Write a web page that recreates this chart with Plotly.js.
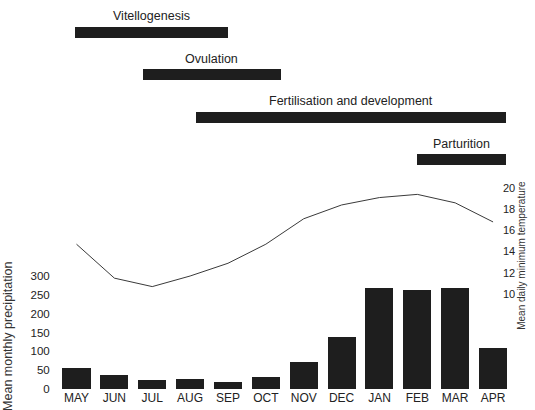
<!DOCTYPE html>
<html>
<head>
<meta charset="utf-8">
<script src="https://cdn.plot.ly/plotly-3.0.1.min.js"></script>
<style>
  html, body { margin: 0; padding: 0; background: #fff; }
  #chart { width: 535px; height: 410px; }
</style>
</head>
<body>
<div id="chart"></div>
<script>
// Months of the reproductive year, May to April
const months = ['MAY', 'JUN', 'JUL', 'AUG', 'SEP', 'OCT', 'NOV', 'DEC', 'JAN', 'FEB', 'MAR', 'APR'];
// Mean monthly precipitation (mm)
const precipitation = [56, 37, 24, 27, 19, 32, 72, 138, 268, 263, 268, 109];
// Mean daily minimum temperature (°C)
const minTemperature = [14.7, 11.5, 10.7, 11.7, 12.9, 14.7, 17.1, 18.4, 19.1, 19.4, 18.6, 16.8];

// Reproductive phases, start/end in month positions (0 = May)
const phaseNames = ['Vitellogenesis', 'Ovulation', 'Fertilisation and development', 'Parturition'];
const phaseStart = [-0.05, 1.75, 3.15, 9.0];
const phaseEnd = [4.0, 5.4, 11.35, 11.35];

const precipTicks = [0, 50, 100, 150, 200, 250, 300];
const tempTicks = [10, 12, 14, 16, 18, 20];

const monthPos = months.map((_, i) => i);
const ink = '#1e1e1e';
const font = 'Liberation Sans, Arial, Helvetica, sans-serif';

// phase rows: first phase at the top
const phaseRow = phaseNames.map((_, i) => phaseNames.length - 1 - i);

const traces = [
  {
    type: 'bar',
    x: monthPos,
    y: precipitation,
    width: 0.74,
    marker: { color: ink, line: { width: 0 } },
    xaxis: 'x', yaxis: 'y',
    hoverinfo: 'skip'
  },
  {
    type: 'scatter',
    mode: 'lines',
    x: monthPos,
    y: minTemperature,
    line: { color: '#3a3a3a', width: 1 },
    xaxis: 'x', yaxis: 'y2',
    hoverinfo: 'skip'
  },
  {
    type: 'bar',
    orientation: 'h',
    y: phaseRow,
    base: phaseStart,
    x: phaseEnd.map((e, i) => e - phaseStart[i]),
    width: 0.26,
    marker: { color: ink, line: { width: 0 } },
    xaxis: 'x', yaxis: 'y3',
    hoverinfo: 'skip'
  }
];

const annotations = phaseNames.map((name, i) => ({
  text: name,
  xref: 'x', yref: 'y3',
  x: (phaseStart[i] + phaseEnd[i]) / 2,
  y: phaseRow[i],
  yshift: 16,
  showarrow: false,
  xanchor: 'center', yanchor: 'middle',
  font: { family: font, size: 12.5, color: '#222' }
}));

annotations.push({
  text: 'Mean monthly precipitation',
  xref: 'paper', yref: 'paper',
  x: -0.1077, y: 0.14,
  textangle: -90,
  showarrow: false,
  xanchor: 'center', yanchor: 'middle',
  font: { family: font, size: 12.5, color: '#333' }
});
annotations.push({
  text: 'Mean daily minimum temperature',
  xref: 'paper', yref: 'paper',
  x: 1.0215, y: 0.3536,
  textangle: -90,
  showarrow: false,
  xanchor: 'center', yanchor: 'middle',
  font: { family: font, size: 10, color: '#333' }
});

const layout = {
  width: 535,
  height: 410,
  margin: { l: 57, r: 23, t: 10, b: 21 },
  paper_bgcolor: '#fff',
  plot_bgcolor: '#fff',
  showlegend: false,
  bargap: 0,
  barmode: 'overlay',
  font: { family: font, color: '#222' },
  xaxis: {
    range: [-0.515, 11.5],
    tickvals: monthPos,
    ticktext: months,
    ticks: '',
    showgrid: false,
    zeroline: false,
    showline: false,
    tickfont: { family: font, size: 12, color: '#222' },
    fixedrange: true
  },
  yaxis: {
    domain: [0, 0.5356],
    range: [0, 538.9],
    tickvals: precipTicks,
    // invisible ticks push the labels a little further from the bars
    ticks: 'outside',
    ticklen: 4,
    tickcolor: 'rgba(0,0,0,0)',
    showgrid: false,
    zeroline: false,
    showline: false,
    tickfont: { family: font, size: 11.5, color: '#222' },
    fixedrange: true
  },
  yaxis2: {
    overlaying: 'y',
    side: 'right',
    anchor: 'free',
    position: 0.978,
    range: [1.04, 20.19],
    tickvals: tempTicks,
    ticks: '',
    showgrid: false,
    zeroline: false,
    showline: false,
    tickfont: { family: font, size: 11, color: '#222' },
    fixedrange: true
  },
  yaxis3: {
    domain: [0.5646, 1],
    range: [-0.366, 3.53],
    visible: false,
    anchor: 'x',
    fixedrange: true
  },
  annotations: annotations
};

Plotly.newPlot('chart', traces, layout, { staticPlot: true, displayModeBar: false });
</script>
</body>
</html>
